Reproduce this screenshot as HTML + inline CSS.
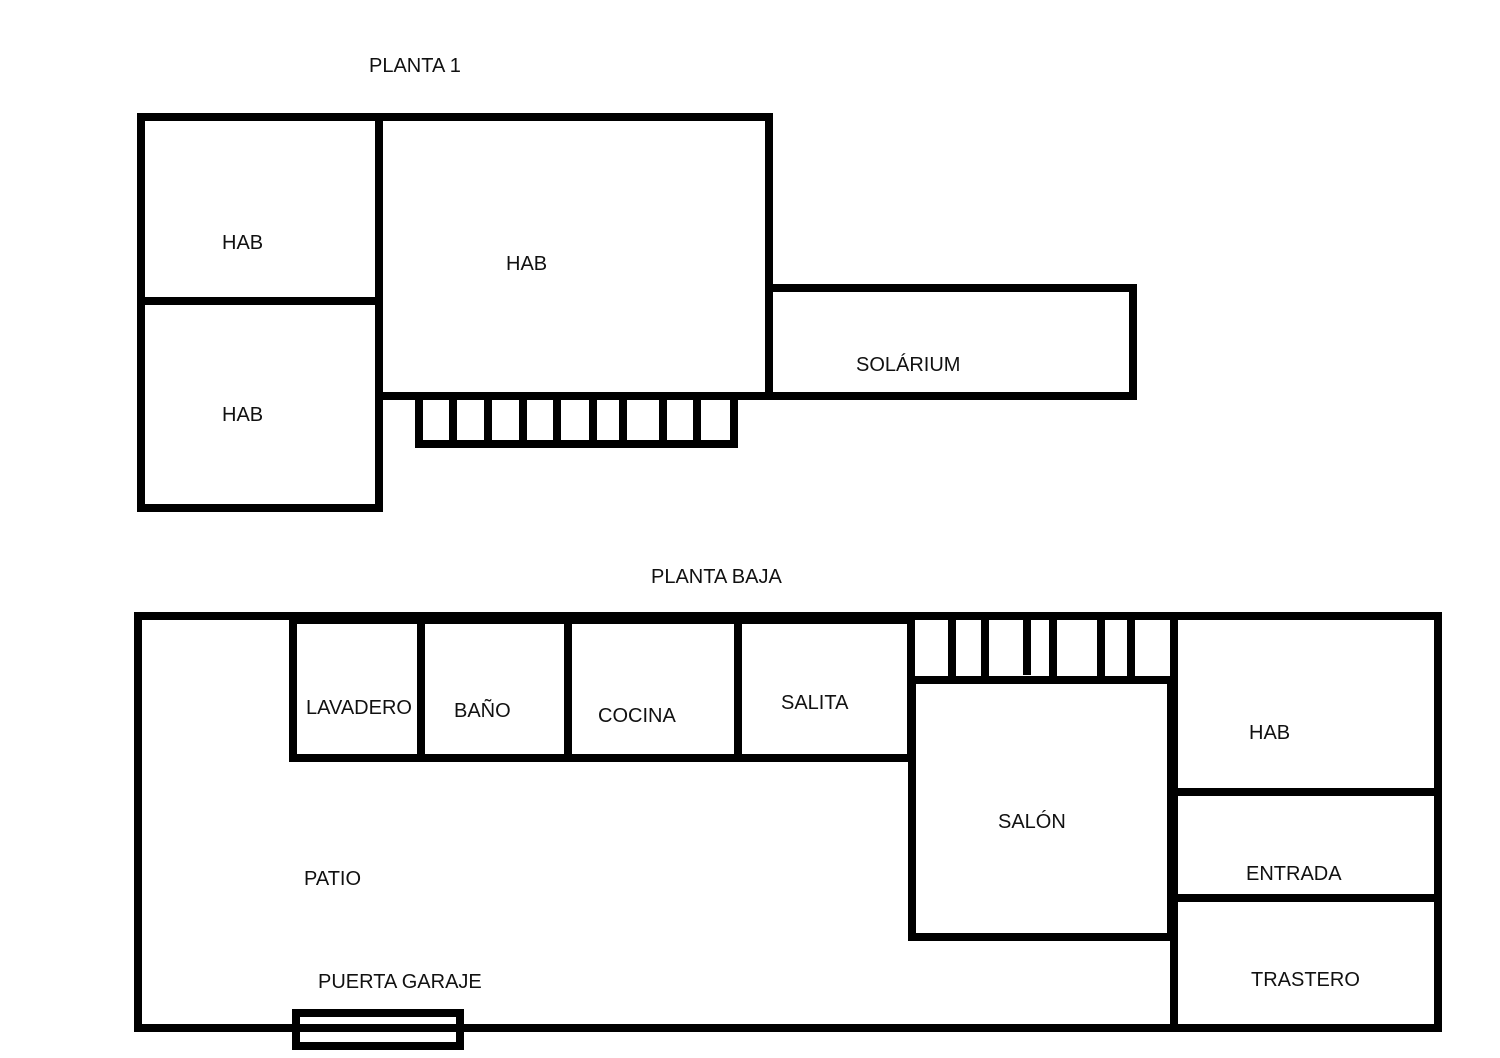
<!DOCTYPE html>
<html><head><meta charset="utf-8"><style>
html,body{margin:0;padding:0;background:#fff;}
svg{display:block;}
text{font-family:"Liberation Sans",sans-serif;font-size:20px;fill:#111;}
</style></head><body>
<svg width="1500" height="1058" viewBox="0 0 1500 1058" xmlns="http://www.w3.org/2000/svg">
<g fill="none" stroke="#000" stroke-width="8">
<rect x="141" y="117" width="238" height="391"/>
<line x1="141" y1="301" x2="379" y2="301"/>
<rect x="379" y="117" width="390" height="279"/>
<rect x="769" y="288" width="364" height="108"/>
<rect x="419" y="396" width="315" height="48"/>
<line x1="453" y1="396" x2="453" y2="444"/>
<line x1="488" y1="396" x2="488" y2="444"/>
<line x1="523" y1="396" x2="523" y2="444"/>
<line x1="557" y1="396" x2="557" y2="444"/>
<line x1="593" y1="396" x2="593" y2="444"/>
<line x1="623" y1="396" x2="623" y2="444"/>
<line x1="663" y1="396" x2="663" y2="444"/>
<line x1="697" y1="396" x2="697" y2="444"/>
<rect x="138" y="616" width="1300" height="412"/>
<rect x="293" y="620" width="618" height="138"/>
<line x1="421" y1="620" x2="421" y2="758"/>
<line x1="568" y1="620" x2="568" y2="758"/>
<line x1="738" y1="620" x2="738" y2="758"/>
<rect x="912" y="680" width="259" height="257"/>
<line x1="911" y1="616" x2="911" y2="680"/>
<line x1="952" y1="616" x2="952" y2="680"/>
<line x1="985" y1="616" x2="985" y2="680"/>
<line x1="1027" y1="616" x2="1027" y2="675"/>
<line x1="1053" y1="616" x2="1053" y2="680"/>
<line x1="1101" y1="616" x2="1101" y2="680"/>
<line x1="1131" y1="616" x2="1131" y2="680"/>
<line x1="1174" y1="616" x2="1174" y2="1028"/>
<line x1="1174" y1="792" x2="1438" y2="792"/>
<line x1="1174" y1="898" x2="1438" y2="898"/>
<rect x="296" y="1013" width="164" height="33"/>
</g>
<text x="369" y="72">PLANTA 1</text>
<text x="222" y="249">HAB</text>
<text x="222" y="421">HAB</text>
<text x="506" y="270">HAB</text>
<text x="856" y="371">SOLÁRIUM</text>
<text x="651" y="583">PLANTA BAJA</text>
<text x="306" y="714">LAVADERO</text>
<text x="454" y="717">BAÑO</text>
<text x="598" y="722">COCINA</text>
<text x="781" y="709">SALITA</text>
<text x="998" y="828">SALÓN</text>
<text x="1249" y="739">HAB</text>
<text x="1246" y="880">ENTRADA</text>
<text x="1251" y="986">TRASTERO</text>
<text x="304" y="885">PATIO</text>
<text x="318" y="988">PUERTA GARAJE</text>
</svg>
</body></html>
